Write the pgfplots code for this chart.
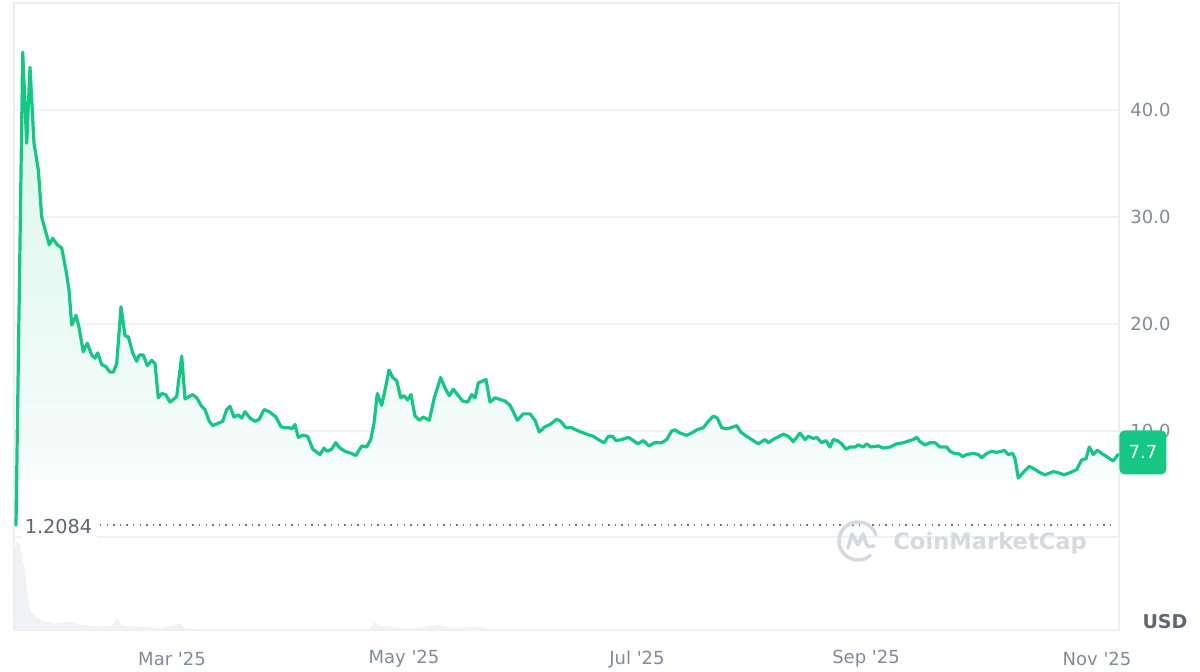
\documentclass[border=0pt]{standalone}
\usepackage{pgfplots}
\usepackage{pgfplotstable}
\pgfplotsset{compat=1.18}
\usepackage{fontspec}
\setmainfont{DejaVu Sans}
\definecolor{cmcgreen}{HTML}{16C784}
\definecolor{ticklab}{HTML}{808A9D}
\definecolor{gridc}{HTML}{EFF2F5}
\definecolor{borderc}{HTML}{ECEEF2}
\definecolor{volc}{HTML}{F0F2F5}
\definecolor{darklab}{HTML}{5E6675}
\definecolor{dotc}{HTML}{70798A}
\definecolor{wm}{HTML}{D5D9E0}

% x = horizontal position (chart pixels), y = price in USD
\pgfplotstableread{
x y
16 1.21
22.7 45.4
26.7 36.9
30 44.0
34 36.9
38.3 34.4
41.7 30.0
49.3 27.4
52.7 28.0
57.3 27.4
61.7 27.1
66 25.0
69 23.2
71.7 19.9
76 20.8
79 19.7
83.3 17.4
87.3 18.2
91.7 17.1
95 16.8
97.7 17.3
101.7 16.2
106 16.0
110 15.5
113.3 15.5
116.7 16.3
121 21.6
125 18.9
128.3 18.8
132.7 17.3
136.7 16.5
139.3 17.1
143.3 17.1
147.3 16.1
151.7 16.6
155 16.3
158.3 13.1
161.7 13.5
165.7 13.4
170 12.7
176.7 13.2
181.7 17.0
185 13.0
192.7 13.4
196.7 13.1
201.7 12.3
205 12.0
209.3 10.9
212.7 10.5
222.7 10.9
226.7 12.0
230 12.3
234 11.3
238.3 11.5
241.7 11.2
245 11.8
250 11.2
255 10.9
259.3 11.1
264 12.0
269.3 11.8
276 11.3
281 10.4
285 10.3
289.3 10.3
292 10.2
295 10.6
298.3 9.4
302.7 9.6
307.7 9.5
312.7 8.3
320 7.8
324 8.4
327.3 8.1
331.7 8.3
335.7 8.9
340 8.4
345 8.1
351.7 7.9
355.7 7.7
361.7 8.6
366.7 8.5
370.7 9.2
374 10.7
377.3 13.5
381.7 12.4
385 13.8
389 15.7
392.7 15.0
396.7 14.7
400.7 13.1
404 13.3
407.7 12.9
411 13.4
415 11.4
419.3 11.0
423.3 11.3
429.3 11.0
434.3 13.1
440.7 15.0
445 14.0
449.3 13.3
453.3 13.9
458.3 13.3
462.7 12.8
467.7 12.7
471.7 13.4
475 13.1
478.3 14.5
486 14.8
490 12.7
495 13.1
505 12.8
510 12.4
513.3 11.8
517.3 11.0
523.3 11.6
530 11.6
535 11.0
539.3 9.9
545 10.4
550 10.6
556.7 11.1
560.7 10.9
566 10.3
571.7 10.3
578.3 10.0
586.7 9.7
593.3 9.5
600 9.1
604.3 8.9
608.3 9.5
612.7 9.5
616 9.1
621.7 9.2
628.3 9.4
633.3 9.1
637.7 8.8
643.3 9.1
649 8.6
654.3 8.9
661.7 8.9
666.7 9.2
671.7 10.0
675 10.1
680 9.8
686.7 9.6
691.7 9.8
696.7 10.1
703.3 10.3
708.3 10.9
713.3 11.4
717.3 11.2
721.7 10.3
726.7 10.2
730.7 10.3
736.7 10.5
740.7 9.9
746.7 9.5
753.3 9.1
758.3 8.8
765 9.2
768.3 8.9
775 9.3
783.3 9.7
788.3 9.5
793.3 9.0
800 9.8
805 9.2
808.3 9.5
813.3 9.3
816.7 9.4
821.7 8.9
826 9.1
830 8.5
833.3 9.2
837.3 9.1
841.7 8.8
846 8.3
850 8.5
855 8.5
858.3 8.7
863.3 8.5
866.7 8.8
870.7 8.5
878.3 8.6
883.3 8.4
890 8.5
896.7 8.8
903.3 8.9
910 9.1
913.3 9.2
916.7 9.4
920 9.0
925 8.7
930 8.9
935 8.9
940 8.5
946.7 8.5
950 8.1
954.3 7.9
958.3 7.9
962.7 7.6
966.7 7.8
973.3 7.9
978.3 7.8
981.7 7.5
986.7 7.9
991.7 8.1
996.7 8.0
1001.7 8.1
1004 8.2
1008.3 7.8
1012.7 7.9
1015 7.4
1018.3 5.6
1024 6.2
1029.3 6.7
1035 6.4
1040 6.1
1045 5.9
1053.3 6.2
1058.3 6.1
1064 5.9
1070 6.1
1076.7 6.4
1081.7 7.3
1086 7.4
1089.3 8.5
1093.3 7.8
1097.3 8.2
1103.3 7.8
1108.3 7.5
1113.3 7.2
1118 7.8
}\pricedata

% volume panel (bottom strip), in the same vertical units
\pgfplotstableread{
x y
14 -8.6
15 -1.2
17 -0.3
20 -0.6
22 -1.8
25 -3.0
28 -5.5
31 -6.9
36 -7.4
45 -7.8
55 -8.0
70 -7.8
80 -8.1
100 -8.3
112 -8.2
117 -7.5
122 -8.2
140 -8.3
160 -8.4
180 -8.0
185 -8.4
200 -8.5
370 -8.5
374 -7.9
380 -8.2
400 -8.4
420 -8.4
440 -8.1
450 -8.4
480 -8.3
490 -8.5
1119 -8.5
1119 -8.6
}\voldata

\begin{document}
\begin{tikzpicture}
\useasboundingbox (-7pt,-21pt) rectangle (593pt,315pt);
\begin{axis}[
  scale only axis, width=552.5pt, height=313.5pt,
  xmin=14, xmax=1119, ymin=-8.6, ymax=50,
  axis line style={draw=borderc, line width=0.6pt},
  major tick length=0pt,
  xtick={172,404,637,866,1097},
  xticklabels={Mar \textquotesingle25, May \textquotesingle25, Jul \textquotesingle25, Sep \textquotesingle25, Nov \textquotesingle25},
  ytick={10,20,30,40}, yticklabels={10.0,20.0,30.0,40.0},
  yticklabel pos=right,
  ymajorgrids, grid style={draw=gridc, line width=0.6pt},
  tick label style={font=\fontsize{9}{10}\selectfont, text=ticklab, inner sep=0pt},
  xticklabel style={anchor=center, yshift=-14.5pt},
  yticklabel style={anchor=west, xshift=5.5pt},
]
\addplot[draw=none, fill=volc] table {\voldata} -- cycle;
\draw[gridc, line width=0.6pt] (axis cs:14,0.1) -- (axis cs:1119,0.1);
\addplot[draw=none, top color=cmcgreen!17!white, bottom color=cmcgreen!2!white]
  table {\pricedata} -- (axis cs:1118,5.4) -- (axis cs:16,5.4) -- cycle;
\draw[dotc, line width=0.7pt, dash pattern=on 0.7pt off 2.6pt] (axis cs:100,1.2084) -- (axis cs:1113,1.2084);
\addplot[cmcgreen, line width=1.6pt, line join=round, line cap=round] table {\pricedata};
\coordinate (bd) at (axis cs:1119,8.0);
\end{axis}
% label of the starting price
\fill[white] (3.5pt,45pt) rectangle (41.5pt,59pt);
\node[font=\fontsize{9.6}{11}\selectfont, text=darklab, inner sep=0pt] at (22.25pt,51.5pt) {1.2084};
% current price badge
\node[fill=cmcgreen, rounded corners=2.5pt, minimum width=23.5pt, minimum height=22pt,
      anchor=west, inner sep=0pt, text=white, font=\fontsize{9}{10}\selectfont] at (bd) {7.7};
% currency
\node[font=\bfseries\fontsize{9.5}{11}\selectfont, text=darklab, inner sep=0pt] at (575.5pt,4pt) {USD};
% watermark
\begin{scope}[shift={(422pt,44.5pt)}, draw=wm, line width=1.8pt, line cap=round, line join=round]
  \draw (-50:9.5pt) arc[start angle=-50, end angle=-340, radius=9.5pt];
  \draw (-5pt,-3.5pt) -- (-3pt,3.5pt) -- (0pt,-2pt) -- (2.5pt,3.5pt) -- (4pt,-1pt) .. controls (5pt,-3pt) .. (8pt,-2.5pt);
\end{scope}
\node[anchor=west, inner sep=0pt, text=wm, font=\bfseries\fontsize{11.3}{13}\selectfont] at (439.5pt,43.5pt) {CoinMarketCap};
\end{tikzpicture}
\end{document}
